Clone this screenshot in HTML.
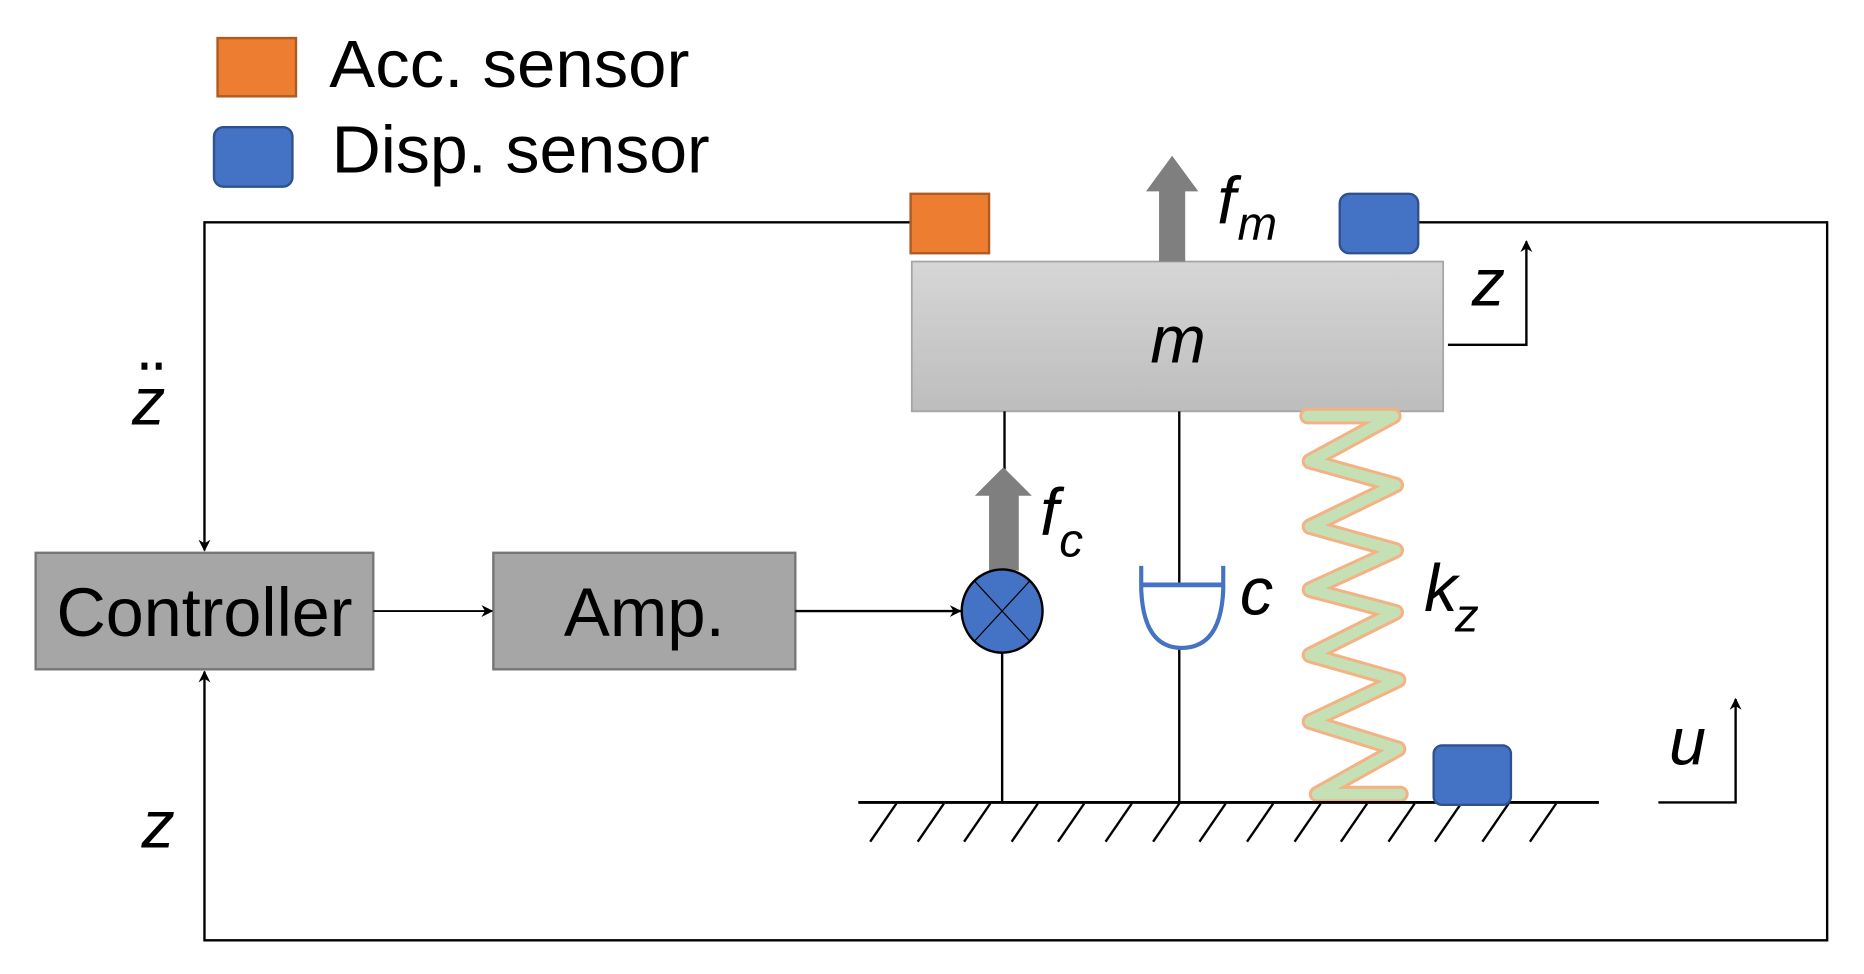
<!DOCTYPE html>
<html><head><meta charset="utf-8"><style>
html,body{margin:0;padding:0;background:#fff;}
svg{display:block;}
text{font-family:"Liberation Sans",Arial,sans-serif;}
</style></head><body>
<svg width="1864" height="974" viewBox="0 0 1568 819.3" xmlns="http://www.w3.org/2000/svg">
<defs>
<linearGradient id="g" x1="0" y1="0" x2="0" y2="1"><stop offset="0" stop-color="#d6d6d6"/><stop offset="1" stop-color="#bdbdbd"/></linearGradient>
<marker id="ar" markerWidth="10" markerHeight="10" refX="9" refY="5" orient="auto" markerUnits="userSpaceOnUse"><path d="M0,0 L10,5 L0,10 L3,5 Z" fill="#000"/></marker>
</defs>
<!-- legend -->
<rect x="183" y="32" width="66" height="49" fill="#ed7d31" stroke="#ae5a21" stroke-width="2"/>
<text x="277" y="73" font-size="56" textLength="303" lengthAdjust="spacingAndGlyphs">Acc. sensor</text>
<rect x="180" y="107" width="66" height="50" rx="8" fill="#4472c4" stroke="#2f528f" stroke-width="2"/>
<text x="279" y="145" font-size="56" textLength="318" lengthAdjust="spacingAndGlyphs">Disp. sensor</text>
<!-- feedback loops -->
<polyline points="766,187 172,187 172,463" fill="none" stroke="#000" stroke-width="2" marker-end="url(#ar)"/>
<polyline points="1193,187 1537,187 1537,791 172,791 172,565" fill="none" stroke="#000" stroke-width="2" marker-end="url(#ar)"/>
<!-- mass -->
<rect x="767" y="220" width="447" height="126" fill="url(#g)" stroke="#a6a6a6" stroke-width="1.5"/>
<text x="991" y="305" font-size="56" font-style="italic" text-anchor="middle">m</text>
<rect x="766" y="163" width="66" height="50" fill="#ed7d31" stroke="#ae5a21" stroke-width="2"/>
<rect x="1127" y="163" width="66" height="50" rx="8" fill="#4472c4" stroke="#2f528f" stroke-width="2"/>
<!-- fm arrow -->
<rect x="975" y="160" width="22" height="60" fill="#7f7f7f"/>
<polygon points="964,161 986,131 1008,161" fill="#7f7f7f"/>
<text x="1024" y="188" font-size="56" font-style="italic">f</text>
<text x="1041" y="202" font-size="40" font-style="italic">m</text>
<!-- z arrow -->
<polyline points="1218,290 1284,290 1284,203" fill="none" stroke="#000" stroke-width="2" marker-end="url(#ar)"/>
<text x="1238" y="257" font-size="56" font-style="italic">z</text>
<!-- blocks -->
<rect x="30" y="465" width="284" height="98" fill="#a6a6a6" stroke="#767676" stroke-width="2"/>
<text x="172" y="535" font-size="58" text-anchor="middle" textLength="249" lengthAdjust="spacingAndGlyphs">Controller</text>
<rect x="415" y="465" width="254" height="98" fill="#a6a6a6" stroke="#767676" stroke-width="2"/>
<text x="542" y="535" font-size="58" text-anchor="middle">Amp.</text>
<line x1="314" y1="514" x2="414" y2="514" stroke="#000" stroke-width="1.5" marker-end="url(#ar)"/>
<line x1="669" y1="514" x2="808" y2="514" stroke="#000" stroke-width="2" marker-end="url(#ar)"/>
<!-- actuator -->
<line x1="845" y1="346" x2="845" y2="395" stroke="#000" stroke-width="2"/>
<rect x="832" y="416" width="25" height="64" fill="#7f7f7f"/>
<polygon points="820,417 844,393 868,417" fill="#7f7f7f"/>
<ellipse cx="843" cy="514" rx="34" ry="35" fill="#4472c4" stroke="#000" stroke-width="2"/>
<line x1="820" y1="489" x2="866" y2="539" stroke="#000" stroke-width="1"/>
<line x1="866" y1="489" x2="820" y2="539" stroke="#000" stroke-width="1"/>
<line x1="843" y1="549" x2="843" y2="675" stroke="#000" stroke-width="2"/>
<text x="875" y="450" font-size="56" font-style="italic">f</text>
<text x="891" y="468" font-size="40" font-style="italic">c</text>
<!-- damper -->
<line x1="992" y1="346" x2="992" y2="492" stroke="#000" stroke-width="2"/>
<line x1="992" y1="545" x2="992" y2="675" stroke="#000" stroke-width="2"/>
<path d="M960,476 L960,496 Q962,545 994,545 Q1027,545 1029,496 L1029,476" fill="none" stroke="#4472c4" stroke-width="3.5"/>
<line x1="961" y1="492" x2="1028" y2="492" stroke="#4472c4" stroke-width="4"/>
<text x="1043" y="517" font-size="56" font-style="italic">c</text>
<!-- spring -->
<polyline points="1100,350 1172,350 1102,388 1174,408 1102,443 1174,463 1102,496 1174,515 1102,551 1176,572 1102,607 1176,630 1108,668 1178,668" fill="none" stroke="#f4b183" stroke-width="14" stroke-linejoin="round" stroke-linecap="round"/>
<polyline points="1100,350 1172,350 1102,388 1174,408 1102,443 1174,463 1102,496 1174,515 1102,551 1176,572 1102,607 1176,630 1108,668 1178,668" fill="none" stroke="#c5e0b4" stroke-width="9" stroke-linejoin="round" stroke-linecap="round"/>
<text x="1198" y="514" font-size="56" font-style="italic">k</text>
<text x="1224" y="531" font-size="40" font-style="italic">z</text>
<!-- ground -->
<line x1="722" y1="675" x2="1345" y2="675" stroke="#000" stroke-width="2.5"/>
<g stroke="#000" stroke-width="2">
<line x1="754" y1="676" x2="732" y2="708"/><line x1="794" y1="676" x2="772" y2="708"/><line x1="833" y1="676" x2="811" y2="708"/><line x1="873" y1="676" x2="851" y2="708"/><line x1="912" y1="676" x2="890" y2="708"/><line x1="952" y1="676" x2="930" y2="708"/><line x1="992" y1="676" x2="970" y2="708"/><line x1="1031" y1="676" x2="1009" y2="708"/><line x1="1071" y1="676" x2="1049" y2="708"/><line x1="1111" y1="676" x2="1089" y2="708"/><line x1="1150" y1="676" x2="1128" y2="708"/><line x1="1190" y1="676" x2="1168" y2="708"/><line x1="1229" y1="676" x2="1207" y2="708"/><line x1="1269" y1="676" x2="1247" y2="708"/><line x1="1309" y1="676" x2="1287" y2="708"/>
</g>
<rect x="1206" y="627" width="65" height="50" rx="7" fill="#4472c4" stroke="#2f528f" stroke-width="2"/>
<!-- u arrow -->
<polyline points="1395,675 1460,675 1460,588" fill="none" stroke="#000" stroke-width="2" marker-end="url(#ar)"/>
<text x="1404" y="643" font-size="56" font-style="italic">u</text>
<!-- left labels -->
<text x="111" y="357" font-size="56" font-style="italic">z</text>
<rect x="119" y="305" width="5" height="6" fill="#000"/><rect x="131" y="305" width="5" height="6" fill="#000"/>
<text x="119" y="713" font-size="56" font-style="italic">z</text>
</svg>
</body></html>
